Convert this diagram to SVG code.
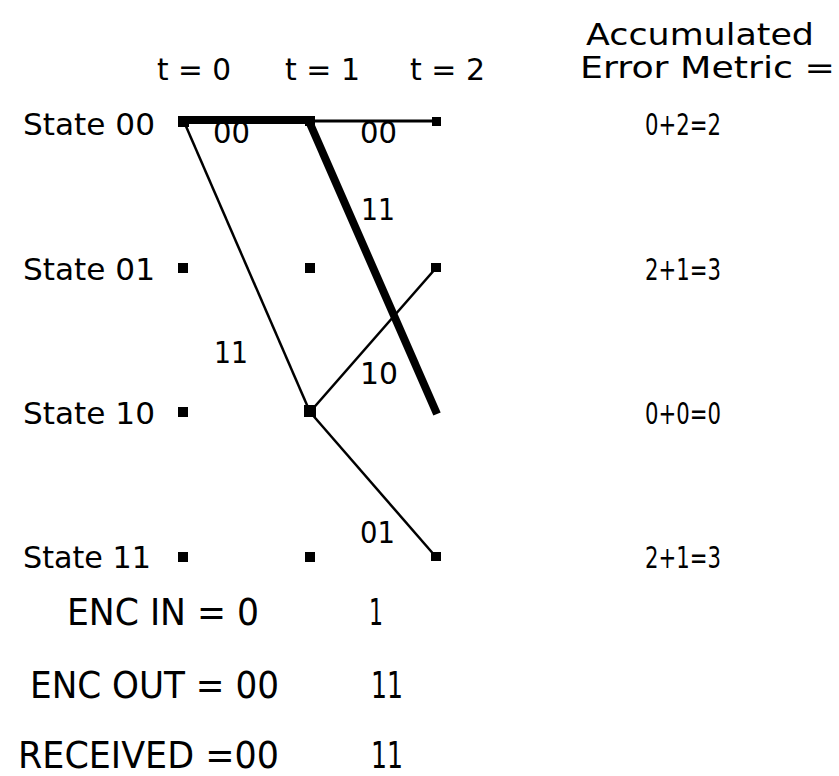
<svg xmlns="http://www.w3.org/2000/svg" width="839" height="776" viewBox="0 0 839 776">
<style>
text{font-family:"DejaVu Sans","Liberation Sans",sans-serif;fill:#000;}
.t{font-size:31px;}
.b{font-size:37px;}
.thin{stroke:#000;stroke-width:2.5;fill:none;}
.thick{stroke:#000;stroke-width:8;fill:none;}
.n{fill:#000;}
</style>
<rect width="839" height="776" fill="#fff"/>
<g id="header">
<text class="t" x="157" y="80" textLength="74" lengthAdjust="spacingAndGlyphs">t = 0</text>
<text class="t" x="285" y="80" textLength="75" lengthAdjust="spacingAndGlyphs">t = 1</text>
<text class="t" x="410" y="80" textLength="75" lengthAdjust="spacingAndGlyphs">t = 2</text>
<text class="t" x="586" y="45" textLength="228" lengthAdjust="spacingAndGlyphs">Accumulated</text>
<text class="t" x="580" y="78" textLength="255" lengthAdjust="spacingAndGlyphs">Error Metric =</text>
</g>
<g id="connectors">
<line class="thin" x1="185" y1="124" x2="310" y2="412"/>
<line class="thin" x1="310" y1="121" x2="436" y2="121" style="stroke-width:3"/>
<line class="thin" x1="310" y1="412" x2="436" y2="268"/>
<line class="thin" x1="310" y1="412" x2="436" y2="557"/>
<line class="thick" x1="180" y1="120" x2="310" y2="120"/>
<line class="thick" x1="308" y1="119" x2="437" y2="414"/>
</g>
<g id="state00">
<text class="t" x="23" y="135" textLength="132" lengthAdjust="spacingAndGlyphs">State 00</text>
<rect class="n" x="178" y="116" width="11" height="11"/>
<rect class="n" x="305" y="116" width="10" height="10"/>
<rect class="n" x="432" y="117" width="9" height="9"/>
</g>
<g id="state01">
<text class="t" x="23" y="280" textLength="132" lengthAdjust="spacingAndGlyphs">State 01</text>
<rect class="n" x="178" y="263" width="10" height="10"/>
<rect class="n" x="305" y="263" width="10" height="10"/>
<rect class="n" x="431" y="263" width="10" height="9"/>
</g>
<g id="state10">
<text class="t" x="23" y="424" textLength="132" lengthAdjust="spacingAndGlyphs">State 10</text>
<rect class="n" x="178" y="407" width="10" height="10"/>
<rect class="n" x="304" y="405" width="12" height="12"/>
</g>
<g id="state11">
<text class="t" x="23" y="568" textLength="128" lengthAdjust="spacingAndGlyphs">State 11</text>
<rect class="n" x="178" y="552" width="10" height="10"/>
<rect class="n" x="305" y="552" width="10" height="10"/>
<rect class="n" x="431" y="552" width="10" height="9"/>
</g>
<g id="edge-labels">
<text class="t" x="213" y="143" textLength="37" lengthAdjust="spacingAndGlyphs">00</text>
<text class="t" x="360" y="143" textLength="37" lengthAdjust="spacingAndGlyphs">00</text>
<text class="t" x="361" y="220" textLength="34" lengthAdjust="spacingAndGlyphs">11</text>
<text class="t" x="214" y="363" textLength="34" lengthAdjust="spacingAndGlyphs">11</text>
<text class="t" x="360" y="384" textLength="38" lengthAdjust="spacingAndGlyphs">10</text>
<text class="t" x="360" y="543" textLength="35" lengthAdjust="spacingAndGlyphs">01</text>
</g>
<g id="metrics">
<text class="t" x="645" y="135" textLength="76" lengthAdjust="spacingAndGlyphs">0+2=2</text>
<text class="t" x="645" y="280" textLength="76" lengthAdjust="spacingAndGlyphs">2+1=3</text>
<text class="t" x="645" y="424" textLength="76" lengthAdjust="spacingAndGlyphs">0+0=0</text>
<text class="t" x="645" y="568" textLength="76" lengthAdjust="spacingAndGlyphs">2+1=3</text>
</g>
<g id="encoder">
<text class="b" x="67" y="625" textLength="192" lengthAdjust="spacingAndGlyphs">ENC IN = 0</text>
<text class="b" x="369" y="625" textLength="14" lengthAdjust="spacingAndGlyphs">1</text>
<text class="b" x="30" y="698" textLength="249" lengthAdjust="spacingAndGlyphs">ENC OUT = 00</text>
<text class="b" x="371" y="698" textLength="32" lengthAdjust="spacingAndGlyphs">11</text>
<text class="b" x="18" y="768" textLength="261" lengthAdjust="spacingAndGlyphs">RECEIVED =00</text>
<text class="b" x="371" y="768" textLength="32" lengthAdjust="spacingAndGlyphs">11</text>
</g>
</svg>
